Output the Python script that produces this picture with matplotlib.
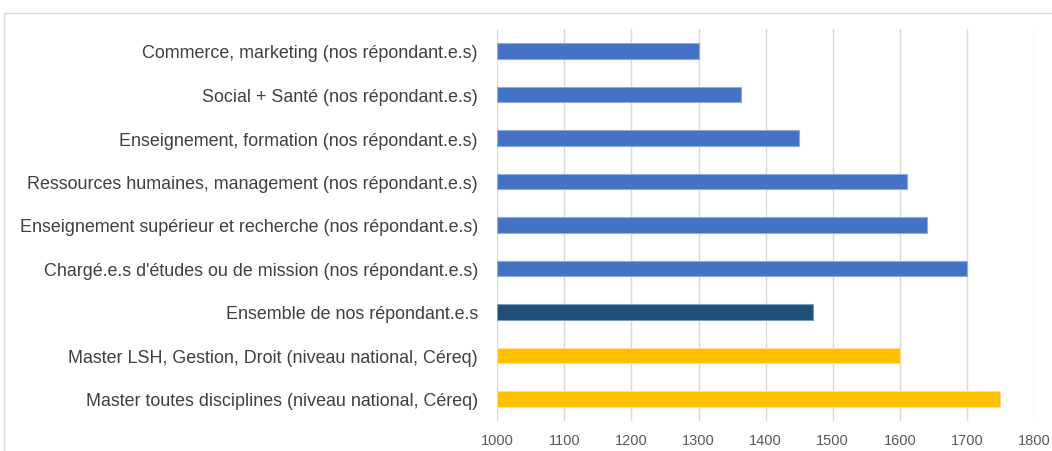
import matplotlib
matplotlib.use("Agg")
import matplotlib.pyplot as plt
from matplotlib.patches import Rectangle

categories = [
    "Commerce, marketing (nos répondant.e.s)",
    "Social + Santé (nos répondant.e.s)",
    "Enseignement, formation (nos répondant.e.s)",
    "Ressources humaines, management (nos répondant.e.s)",
    "Enseignement supérieur et recherche (nos répondant.e.s)",
    "Chargé.e.s d'études ou de mission (nos répondant.e.s)",
    "Ensemble de nos répondant.e.s",
    "Master LSH, Gestion, Droit (niveau national, Céreq)",
    "Master toutes disciplines (niveau national, Céreq)",
]
values = [1300, 1363, 1450, 1610, 1640, 1700, 1470, 1600, 1750]
colors = ["#4472C4"] * 6 + ["#1F4E79"] + ["#FFC000"] * 2
edge_colors = ["#8FAADC"] * 6 + ["#7F9DB9"] + ["#FFE08A"] * 2
xticks = [1000, 1100, 1200, 1300, 1400, 1500, 1600, 1700, 1800]

plt.rcParams['font.family'] = ['Liberation Sans', 'DejaVu Sans']

W, H = 1052, 452
fig = plt.figure(figsize=(W / 100, H / 100), dpi=100)
ax = fig.add_axes([497.3 / W, 1 - 421.75 / H, (1034 - 497.3) / W, (421.75 - 30.25) / H])

y = list(range(len(categories)))
ax.barh(y, [v - 1000 for v in values], left=1000, height=0.35,
        color=colors, edgecolor=edge_colors, linewidth=0.8, zorder=3)
ax.set_xlim(1000, 1800)
ax.set_ylim(len(categories) - 0.5, -0.5)
ax.set_xticks(xticks)
ax.set_xticklabels([str(t) for t in xticks], fontsize=10.5, color="#595959")
ax.set_yticks(y)
ax.set_yticklabels(categories, fontsize=12.9, color="#404040")
ax.tick_params(axis='both', length=0)
ax.tick_params(axis='x', pad=9)
ax.tick_params(axis='y', pad=14)
ax.grid(axis='x', color="#D9D9D9", linewidth=1, zorder=0)
for s in ax.spines.values():
    s.set_visible(False)

# chart border
fig.patches.append(Rectangle((4 / W, -0.1), 1.2, 1 - 14 / H + 0.1, transform=fig.transFigure,
                             fill=False, edgecolor="#D9D9D9", linewidth=1))

fig.savefig("out.png", dpi=100)
